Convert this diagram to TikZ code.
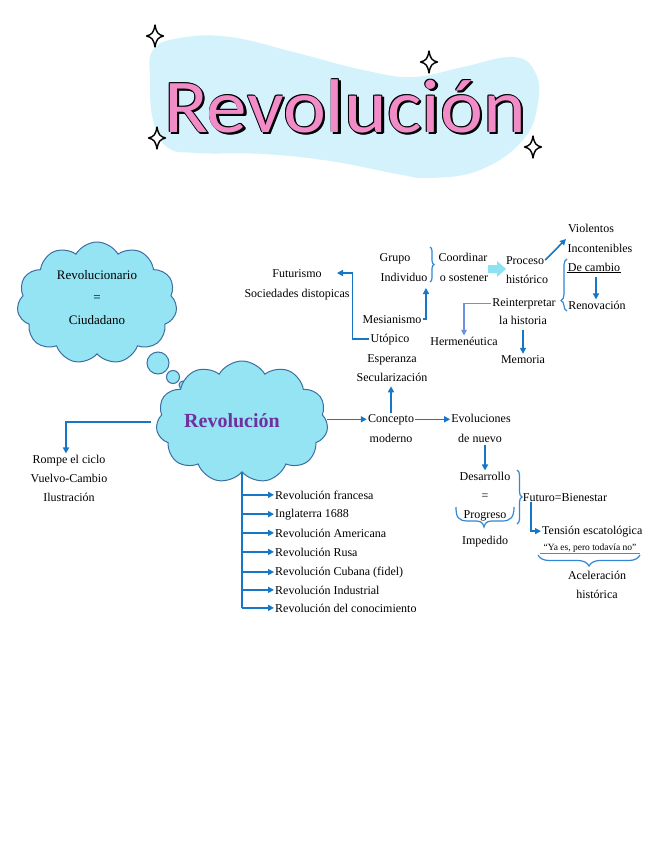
\documentclass[tikz,border=0pt]{standalone}
\usepackage{fontspec}
\setmainfont{Liberation Serif}
\newfontfamily\titlefont{Carlito}
\usetikzlibrary{shapes.symbols,arrows.meta,decorations.pathreplacing}
\definecolor{ablue}{RGB}{22,118,200}
\definecolor{bblue}{RGB}{50,135,215}
\definecolor{lblue}{RGB}{105,145,220}
\definecolor{cloudfill}{RGB}{148,228,243}
\definecolor{cloudline}{RGB}{62,110,160}
\definecolor{blobc}{RGB}{212,242,252}
\definecolor{pinkc}{RGB}{242,140,200}
\definecolor{purp}{RGB}{112,48,160}
\definecolor{cyanarr}{RGB}{140,226,242}
\tikzset{
  t/.style={font=\fontsize{12}{14}\selectfont, inner sep=1pt, anchor=base},
  tw/.style={t, anchor=base west},
  arr/.style={draw=ablue, line width=1.6pt, -{Triangle[length=6pt,width=6pt]}},
  arrL/.style={draw=lblue, line width=1.1pt, -{Triangle[length=5.5pt,width=5.5pt]}},
  ln/.style={draw=ablue, line width=1.6pt},
  br/.style={draw=bblue, line width=1.2pt, decorate, decoration={brace, amplitude=#1}},
  br/.default=5pt,
  cl/.style={cloud, cloud puffs=11, cloud puff arc=120, cloud ignores aspect, draw=cloudline, line width=1pt, fill=cloudfill},
  titlet/.style={font=\titlefont\fontsize{76}{80}\selectfont, anchor=base, xscale=1.07, inner sep=0pt},
  sparkle/.pic={\draw[fill=white, line width=1.4pt, line join=round] (0,-11) .. controls (1.5,-3) and (3,-1.5) .. (8.5,0) .. controls (3,1.5) and (1.5,3) .. (0,11) .. controls (-1.5,3) and (-3,1.5) .. (-8.5,0) .. controls (-3,-1.5) and (-1.5,-3) .. (0,-11) -- cycle;}
}
\begin{document}
\begin{tikzpicture}[x=1pt,y=-1pt]
\useasboundingbox[fill=white] (0,0) rectangle (655,848);
% title blob
\fill[blobc] plot[smooth cycle, tension=0.7] coordinates {(153,50) (180,38) (230,37) (297,53) (363,70) (413,77) (463,67) (513,57) (535,72) (538,103) (523,140) (480,170) (430,178) (397,174) (330,161) (263,154) (197,153) (167,147) (153,120) (150,80)};
\pic at (155,36) {sparkle};
\pic at (429,62) {sparkle};
\pic at (157,138) {sparkle};
\pic at (533,147) {sparkle};
\foreach \dx/\dy [count=\k] in {2.2/2.2, 1.4/2.6, 2.6/1.4, -0.7/-0.7, 0.7/-0.7, -0.7/0.7, 0.7/0.7}
  \node[titlet, text=black] (ts\k) at (345+\dx,132+\dy) {Revolución};
\node[titlet, text=pinkc] (title) at (345,132) {Revolución};

% clouds
\node[cl, minimum width=160pt, minimum height=122pt] (cloud1) at (97,303) {};
\node[t, font=\fontsize{13}{15}\selectfont] (rc1) at (97,279) {Revolucionario};
\node[t, font=\fontsize{13}{15}\selectfont] (rc2) at (97,301) {=};
\node[t, font=\fontsize{13}{15}\selectfont] (rc3) at (97,324) {Ciudadano};
\draw[draw=cloudline, line width=1pt, fill=cloudfill] (158,363) circle (11);
\draw[draw=cloudline, line width=1pt, fill=cloudfill] (173,377) circle (6.5);
\draw[draw=cloudline, line width=1pt, fill=cloudfill] (183,385) circle (4);
\node[cl, minimum width=172pt, minimum height=122pt] (cloud2) at (242,422) {};
\node[t, font=\bfseries\fontsize{20}{22}\selectfont, text=purp] (rev) at (232,427) {Revolución};

% left branch
\node[t] (rompe) at (69,463) {Rompe el ciclo};
\node[t] (vuel) at (69,482) {Vuelvo-Cambio};
\node[t] (ilus) at (69,501) {Ilustración};
\draw[arr] ([xshift=-6pt]cloud2.west) -| ([xshift=-3pt]rompe.north);

% list
\node[tw] (l1) at (274,499) {Revolución francesa};
\node[tw] (l2) at (274,517) {Inglaterra 1688};
\node[tw] (l3) at (274,537) {Revolución Americana};
\node[tw] (l4) at (274,556) {Revolución Rusa};
\node[tw] (l5) at (274,575) {Revolución Cubana (fidel)};
\node[tw] (l6) at (274,594) {Revolución Industrial};
\node[tw] (l7) at (274,612) {Revolución del conocimiento};
\draw[ln] (cloud2.south) -- (cloud2.south |- l7.west);
\foreach \i in {1,...,7}
  \draw[arr] (cloud2.south |- l\i.west) -- (l\i.west);

% right branch
\node[t] (conc) at (391,422) {Concepto};
\node[t] (mod) at (391,442) {moderno};
\node[t] (evol) at (481,422) {Evoluciones};
\node[t] (denu) at (480,442) {de nuevo};
\draw[arr] (cloud2.east |- conc.west) -- (conc.west);
\draw[arr] (conc.east) -- (conc.east -| evol.west);

\node[t] (desa) at (485,480) {Desarrollo};
\node[t] (eq) at (485,499) {=};
\node[t] (prog) at (485,518) {Progreso};
\node[t] (imped) at (485,544) {Impedido};
\draw[arr, shorten <=2pt] (desa.north |- denu.south) -- (desa.north);
\draw[br=5pt] (517,470) -- (517,524);
\draw[draw=bblue, line width=1.2pt] (456,507) .. controls (456,517) and (458,521) .. (468,521) -- (476,521) .. controls (481,521) and (483,523) .. (484,527) .. controls (485,523) and (487,521) .. (492,521) -- (502,521) .. controls (511,521) and (514,517) .. (514,507);
\node[t] (futu) at (565,501) {Futuro=Bienestar};
\node[tw] (tens) at (541,534) {Tensión escatológica};
\draw[arr] ([xshift=9pt]futu.south west) |- (tens.west);
\node[t, font=\fontsize{9.5}{11}\selectfont] (yaes) at (590,550) {“Ya es, pero todavía no”};
\draw[gray, line width=0.8pt] (540,553) -- (640,553);
\draw[br=11pt] (640,555) -- (538,555);
\node[t] (acel) at (597,579) {Aceleración};
\node[t] (histc) at (597,598) {histórica};

% upper branch
\node[t] (mesi) at (392,323) {Mesianismo};
\node[t] (utop) at (390,342) {Utópico};
\node[t] (esper) at (392,362) {Esperanza};
\node[t] (secul) at (392,381) {Secularización};
\draw[arr, shorten >=4pt] (conc.north) -- (conc.north |- secul.south);

\node[t] (fut) at (297,277) {Futurismo};
\node[t] (soc) at (297,297) {Sociedades distopicas};
\coordinate (ftip) at (337,273);
\draw[arr] (utop.west) -- ++(-17,0) |- (ftip);

\node[t] (grupo) at (395,261) {Grupo};
\node[t] (indiv) at (404,281) {Individuo};
\coordinate (mtip) at (426,288);
\draw[arr] (mesi.east) -| (mtip);
\draw[br=4pt] (430,247) -- (430,282);
\node[t] (coord) at (463,261) {Coordinar};
\node[t] (osost) at (464,281) {o sostener};
\fill[cyanarr] (488,265) -- (497,265) -- (497,261) -- (506,269) -- (497,277) -- (497,273) -- (488,273) -- cycle;
\node[t] (proc) at (525,264) {Proceso};
\node[t] (hist) at (527,283) {histórico};
\node[t] (viol) at (591,232) {Violentos};
\node[t] (incon) at (600,252) {Incontenibles};
\coordinate (ptip) at (566,239);
\draw[arr] (proc.east) -- (ptip);
\draw[br=6pt, decoration={aspect=0.2}] (567,311) -- (567,259);
\node[t] (decam) at (594,271) {De cambio};
\draw[line width=0.8pt] (decam.south west) -- (decam.south east);
\node[t] (renov) at (597,309) {Renovación};
\draw[arr, shorten <=5pt] ([xshift=2pt]decam.south) -- ([xshift=2pt]decam.south |- renov.north);
\node[t] (reint) at (524,306) {Reinterpretar};
\node[t] (lahist) at (523,324) {la historia};
\node[t] (herm) at (464,345) {Hermenéutica};
\node[t] (mem) at (523,363) {Memoria};
\draw[arrL] (reint.west) -| (herm.north);
\draw[arr, shorten <=5pt] (lahist.south) -- (lahist.south |- mem.north);
\end{tikzpicture}
\end{document}
